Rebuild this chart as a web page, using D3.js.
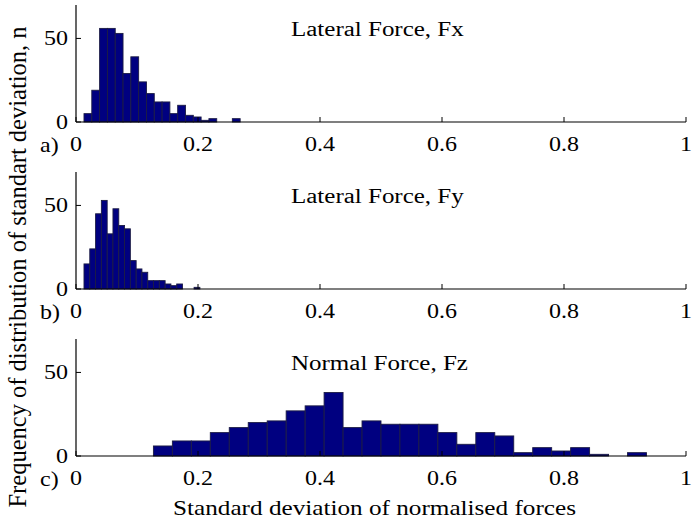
<!DOCTYPE html>
<html>
<head>
<meta charset="utf-8">
<script src="https://cdn.jsdelivr.net/npm/d3@7"></script>
<style>
  html, body { margin: 0; padding: 0; background: #fff; }
  svg { display: block; }
  text { font-family: "Liberation Serif", "Times New Roman", serif; fill: #000; }
</style>
</head>
<body>
<div id="chart"></div>
<script>
// ---------------- data ----------------
const panelTitles = ["Lateral Force, Fx", "Lateral Force, Fy", "Normal Force, Fz"];
const panelLetters = ["a)", "b)", "c)"];
// histogram bins: first edge, bin width, counts
const binStartFx = 0.0131, binWidthFx = 0.0128;
const countsFx = [5, 19, 56, 56, 53, 29, 39, 24, 17, 12, 12, 5, 10, 4, 3, 1, 2, 0, 0, 2];
const binStartFy = 0.0131, binWidthFy = 0.0095;
const countsFy = [15, 24, 45, 53, 33, 48, 38, 36, 17, 12, 10, 5, 5, 5, 3, 2, 3, 0, 0, 1];
const binStartFz = 0.1269, binWidthFz = 0.03109;
const countsFz = [6, 9, 9, 14, 17, 20, 21, 27, 30, 38, 17, 21, 19, 19, 19, 14, 7, 14, 12, 2, 5, 3, 5, 1, 0, 2];
const xTicks = [0, 0.2, 0.4, 0.6, 0.8, 1];
const xTickLabels = ["0", "0.2", "0.4", "0.6", "0.8", "1"];
const yTicks = [0, 50];
const yTickLabels = ["0", "50"];
const xDomain = [0, 1];
const yDomain = [0, 70];
const xLabel = "Standard deviation of normalised forces";
const yLabel = "Frequency of distribution of standart deviation, n";

// ---------------- layout ----------------
const W = 696, H = 523;
const left = 76, right = 686;
const panelTops = [5, 172, 339];
const panelH = 117;
const stretch = 1.2;
const barFill = "#000080";
const barStroke = "#1c1c44";

const svg = d3.select("#chart").append("svg").attr("width", W).attr("height", H);
const x = d3.scaleLinear().domain(xDomain).range([left, right]);

function makeBins(start, width, counts) {
  return counts.map((c, i) => ({ x0: start + i * width, x1: start + (i + 1) * width, n: c }));
}
const panels = [
  makeBins(binStartFx, binWidthFx, countsFx),
  makeBins(binStartFy, binWidthFy, countsFy),
  makeBins(binStartFz, binWidthFz, countsFz)
];

function stext(g, tx, ty, str, size, anchor, sx) {
  const t = g.append("g").attr("transform", `translate(${tx},${ty})`)
    .append("text")
    .attr("transform", `scale(${sx},1)`)
    .attr("text-anchor", anchor)
    .style("font-size", size + "px")
    .text(str);
  return t;
}

panels.forEach((bins, pi) => {
  const top = panelTops[pi];
  const y = d3.scaleLinear().domain(yDomain).range([top + panelH, top]);
  const g = svg.append("g");
  const base = y(0);

  // bars
  g.selectAll("rect.bar").data(bins.filter(d => d.n > 0)).join("rect")
    .attr("class", "bar")
    .attr("x", d => x(d.x0))
    .attr("width", d => x(d.x1) - x(d.x0))
    .attr("y", d => y(d.n))
    .attr("height", d => base - y(d.n))
    .attr("fill", barFill)
    .attr("stroke", barStroke)
    .attr("stroke-width", 0.9);

  // axes lines
  g.append("line").attr("x1", x(0)).attr("x2", x(0)).attr("y1", y(yDomain[1])).attr("y2", base)
    .attr("stroke", "#000").attr("stroke-width", 1.2);
  g.append("line").attr("x1", x(0)).attr("x2", x(1)).attr("y1", base).attr("y2", base)
    .attr("stroke", "#000").attr("stroke-width", 1.2);

  // x ticks (inward)
  xTicks.forEach((v, i) => {
    g.append("line").attr("x1", x(v)).attr("x2", x(v)).attr("y1", base).attr("y2", base - 5)
      .attr("stroke", "#000").attr("stroke-width", 1);
    stext(g, x(v), base + 28.5, xTickLabels[i], 20, "middle", stretch);
  });
  // y ticks (inward)
  yTicks.forEach((v, i) => {
    g.append("line").attr("x1", x(0)).attr("x2", x(0) + 5).attr("y1", y(v)).attr("y2", y(v))
      .attr("stroke", "#000").attr("stroke-width", 1);
    stext(g, 68, y(v) + 7, yTickLabels[i], 20, "end", stretch);
  });

  // panel letter
  stext(g, 40, base + 29.5, panelLetters[pi], 20, "start", stretch);
  // title
  stext(g, 291, top + 31, panelTitles[pi], 20, "start", 1.25);
});

// x label
stext(svg, 374.5, 515, xLabel, 21, "middle", stretch);
// y label
svg.append("text")
  .attr("transform", "translate(26,267) rotate(-90)")
  .attr("text-anchor", "middle")
  .style("font-size", "24.5px")
  .text(yLabel);
</script>
</body>
</html>
